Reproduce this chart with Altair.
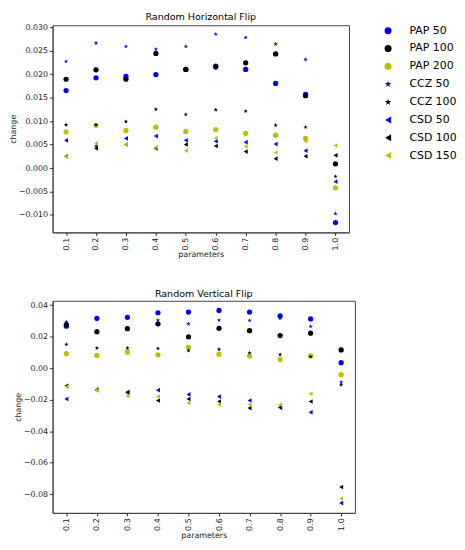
import altair as alt
import pandas as pd

params = [0.1, 0.2, 0.3, 0.4, 0.5, 0.6, 0.7, 0.8, 0.9, 1.0]
series_names = ["PAP 50", "PAP 100", "PAP 200", "CCZ 50", "CCZ 100", "CSD 50", "CSD 100", "CSD 150"]
series_colors = ["#0000ff", "#000000", "#bfbf00", "#0000ff", "#000000", "#0000ff", "#000000", "#bfbf00"]
STAR = ("M0,-1L0.2245,-0.309L0.951,-0.309L0.363,0.118L0.588,0.809L0,0.382"
        "L-0.588,0.809L-0.363,0.118L-0.951,-0.309L-0.2245,-0.309Z")
series_shapes = ["circle"] * 3 + [STAR] * 2 + ["triangle-left"] * 3
series_groups = ["circle"] * 3 + ["star"] * 2 + ["tri"] * 3

# Random Horizontal Flip
h_pap50 = [0.0165, 0.0192, 0.0195, 0.0199, 0.0210, 0.0215, 0.0210, 0.0180, 0.0157, -0.0116]
h_pap100 = [0.0189, 0.0209, 0.0189, 0.0244, 0.0210, 0.0217, 0.0224, 0.0243, 0.0154, 0.0009]
h_pap200 = [0.0077, 0.0091, 0.0080, 0.0087, 0.0078, 0.0082, 0.0074, 0.0070, 0.0063, -0.0042]
h_ccz50 = [0.0227, 0.0266, 0.0259, 0.0253, 0.0259, 0.0285, 0.0278, 0.0264, 0.0231, -0.0097]
h_ccz100 = [0.0092, 0.0092, 0.0099, 0.0125, 0.0114, 0.0124, 0.0121, 0.0091, 0.0087, -0.0018]
h_csd50 = [0.0059, 0.0047, 0.0063, 0.0068, 0.0059, 0.0057, 0.0055, 0.0051, 0.0037, -0.0029]
h_csd100 = [0.0025, 0.0042, 0.0050, 0.0042, 0.0050, 0.0047, 0.0035, 0.0020, 0.0025, 0.0027]
h_csd150 = [0.0024, 0.0052, 0.0050, 0.0044, 0.0037, 0.0064, 0.0046, 0.0033, 0.0057, 0.0048]

# Random Vertical Flip
v_pap50 = [0.0267, 0.0317, 0.0323, 0.0352, 0.0356, 0.0367, 0.0356, 0.0332, 0.0313, 0.0035]
v_pap100 = [0.0276, 0.0232, 0.0251, 0.0282, 0.0199, 0.0253, 0.0238, 0.0207, 0.0222, 0.0116]
v_pap200 = [0.0093, 0.0081, 0.0102, 0.0085, 0.0133, 0.0089, 0.0077, 0.0056, 0.0079, -0.0041]
v_ccz50 = [0.0294, 0.0309, 0.0320, 0.0305, 0.0282, 0.0305, 0.0303, 0.0317, 0.0265, -0.0089]
v_ccz100 = [0.0151, 0.0128, 0.0128, 0.0126, 0.0112, 0.0120, 0.0097, 0.0087, 0.0073, -0.0106]
v_csd50 = [-0.0195, -0.0140, -0.0151, -0.0139, -0.0166, -0.0180, -0.0205, -0.0251, -0.0280, -0.0856]
v_csd100 = [-0.0112, -0.0135, -0.0155, -0.0205, -0.0195, -0.0211, -0.0253, -0.0247, -0.0211, -0.0754]
v_csd150 = [-0.0118, -0.0139, -0.0176, -0.0180, -0.0220, -0.0230, -0.0232, -0.0232, -0.0162, -0.0827]

h_ticks = [-0.010, -0.005, 0.000, 0.005, 0.010, 0.015, 0.020, 0.025, 0.030]
v_ticks = [-0.08, -0.06, -0.04, -0.02, 0.00, 0.02, 0.04]

FONT = "DejaVu Sans"


def build_df(series_values):
    rows = []
    for name, group, vals in zip(series_names, series_groups, series_values):
        for p, v in zip(params, vals):
            rows.append({"param": p, "value": v, "series": name, "group": group})
    return pd.DataFrame(rows)


h_df = build_df([h_pap50, h_pap100, h_pap200, h_ccz50, h_ccz100, h_csd50, h_csd100, h_csd150])
v_df = build_df([v_pap50, v_pap100, v_pap200, v_ccz50, v_ccz100, v_csd50, v_csd100, v_csd150])

legend = alt.Legend(
    title=None, orient="right", offset=27, padding=0,
    symbolSize=50, labelFontSize=11, labelFont=FONT, labelColor="#000",
    labelOffset=16, rowPadding=6, symbolStrokeWidth=0,
)
color = alt.Color("series:N", scale=alt.Scale(domain=series_names, range=series_colors), legend=legend)
shape = alt.Shape("series:N", scale=alt.Scale(domain=series_names, range=series_shapes), legend=legend)

sizes = {"circle": 28, "star": 22, "tri": 22}


def panel(df, title, ydomain, yvalues, yfmt, width, height):
    base = alt.Chart(df).encode(
        x=alt.X("param:Q",
                scale=alt.Scale(domain=[0.055, 1.045], nice=False, zero=False),
                axis=alt.Axis(values=params, format=".1f", labelAngle=270, title="parameters")),
        y=alt.Y("value:Q",
                scale=alt.Scale(domain=ydomain, nice=False, zero=False),
                axis=alt.Axis(values=yvalues, format=yfmt, title="change")),
        color=color,
        shape=shape,
    )
    layers = [
        base.transform_filter(alt.datum.group == g).mark_point(filled=True, opacity=1, size=s, strokeWidth=0)
        for g, s in sizes.items()
    ]
    return alt.layer(*layers).properties(
        width=width, height=height,
        title=alt.Title(title, fontSize=9.6, font=FONT, fontWeight="normal", color="#000", offset=2),
    )


top = panel(h_df, "Random Horizontal Flip", [-0.0137, 0.0304], h_ticks, ".3f", 299, 209)
bottom = panel(v_df, "Random Vertical Flip", [-0.0918, 0.0428], v_ticks, ".2f", 305, 214)

chart = alt.concat(top, bottom, columns=1, spacing=28, align="none").properties(
    padding={"left": 0, "top": 0, "right": 0, "bottom": 0}
).configure_axis(
    grid=False, labelFont=FONT, labelFontSize=8, labelColor="#222",
    titleFont=FONT, titleFontSize=8, titleFontWeight="normal", titleColor="#222",
    tickColor="#222", tickSize=3, domainColor="#444", labelPadding=2, titlePadding=1,
).configure_view(stroke="#444", strokeWidth=1)

chart.save("out.html", embed_options={"renderer": "svg", "actions": False})
